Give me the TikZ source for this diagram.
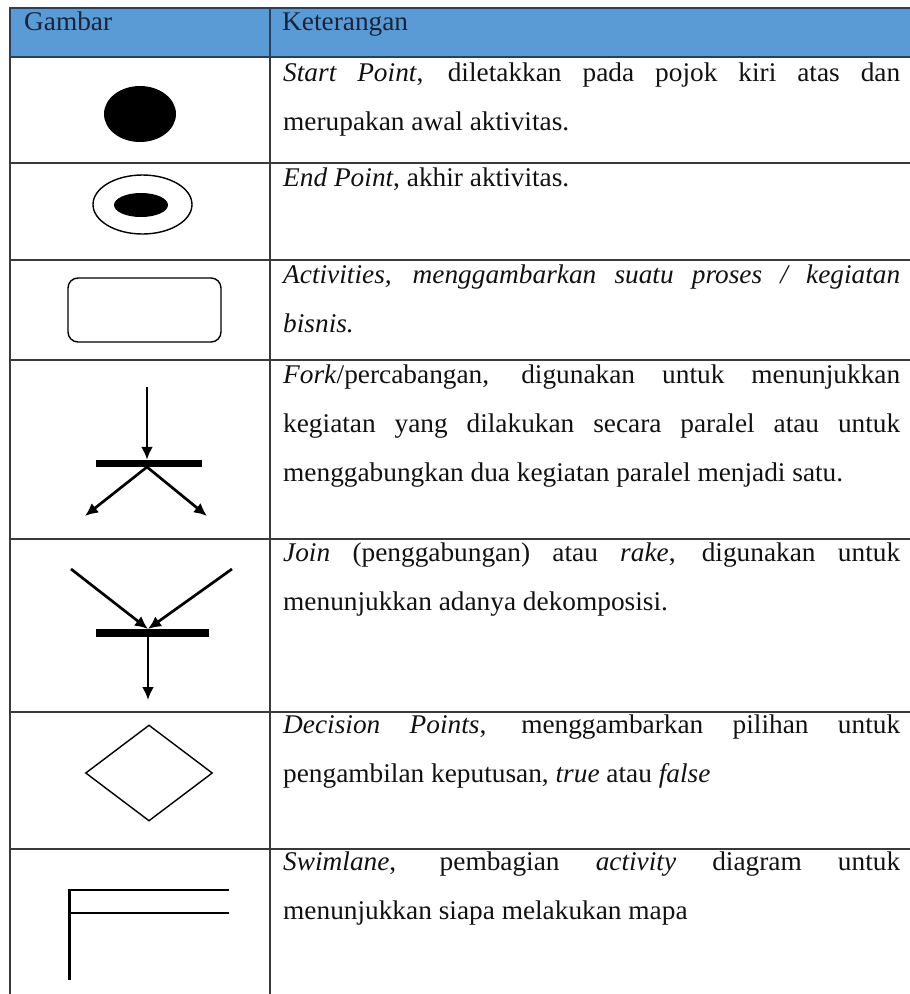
\documentclass[tikz,border=0pt]{standalone}
\usepackage{fontspec}
\setmainfont[FakeStretch=1.012]{Liberation Serif}
\usetikzlibrary{arrows.meta,shapes.geometric}

\definecolor{headfill}{HTML}{5B9BD5}
\definecolor{headline}{HTML}{2B3F5C}
\definecolor{headtext}{HTML}{16243D}
\definecolor{gridline}{HTML}{3A3A3A}
\definecolor{bodytext}{HTML}{111111}

% one justified line of the description column
\newcommand\fullline[1]{\makebox[617pt][s]{#1}}

\tikzset{
  rule/.style={draw=gridline, line width=1.8pt},
  headrule/.style={draw=headline, line width=2.2pt},
  desc/.style={anchor=base west, inner sep=0pt, text=bodytext,
               font=\fontsize{27}{32}\selectfont},
  headlabel/.style={anchor=base west, inner sep=0pt, text=headtext,
               font=\fontsize{27}{32}\selectfont},
  flow/.style={draw=black, line width=2.7pt,
               -{Latex[length=13pt,width=12pt]}},
  syncbar/.style={fill=black, draw=none, rectangle, inner sep=0pt},
}

\begin{document}
\begin{tikzpicture}[x=1pt,y=-1pt]
\useasboundingbox (0,0) rectangle (910,994);

% header band
\fill[headfill] (10,8) rectangle (912,57);

% row separators
\foreach \yy in {163,260,360,539,712,849}
  \draw[rule] (10,\yy) -- (912,\yy);
% column rules
\draw[rule] (10,57) -- (10,996);
\draw[rule] (270,57) -- (270,996);
% header frame
\draw[headrule] (10,57) -- (10,8) -- (912,8);
\draw[headrule] (10,57) -- (912,57);
\draw[headrule] (270,8) -- (270,57);

\node[headlabel] (hgambar) at (24,30) {Gambar};
\node[headlabel] (hket) at (282,30) {Keterangan};

% start point
\node[ellipse, fill=black, inner sep=0pt, minimum width=72pt, minimum height=56pt] (startpt) at (140,114) {};

% end point
\node[ellipse, draw=black, line width=1.4pt, inner sep=0pt, minimum width=99pt, minimum height=59pt] (endouter) at (142.5,204.5) {};
\node[ellipse, fill=black, inner sep=0pt, minimum width=54pt, minimum height=24pt] (endinner) at (141,205) {};

% activity
\node[rectangle, rounded corners=10pt, draw=black, line width=1.4pt, minimum width=153pt, minimum height=64pt] (activity) at (144.5,310) {};

% fork
\node[syncbar, minimum width=106pt, minimum height=7pt] (forkbar) at (149,463.5) {};
\coordinate (forkin) at (147,387);
\coordinate (forkleft) at (85,516);
\coordinate (forkright) at (207,516);
\coordinate (forkhub) at (147,467);
\draw[flow] (forkin) -- ([xshift=-2pt]forkbar.north);
\draw[flow] (forkhub) -- (forkleft);
\draw[flow] (forkhub) -- (forkright);

% join
\node[syncbar, minimum width=113pt, minimum height=8pt] (joinbar) at (152.5,633) {};
\coordinate (joinleft) at (71,569);
\coordinate (joinright) at (232,569);
\coordinate (joinhub) at (148,629);
\coordinate (joinfoot) at (148,637);
\coordinate (joinout) at (148,700);
\draw[flow] (joinleft) -- (joinhub);
\draw[flow] (joinright) -- (joinhub);
\draw[flow] (joinfoot) -- (joinout);

% decision
\node[diamond, draw=black, line width=1.4pt, inner sep=0pt, minimum width=127pt, minimum height=96pt] (decision) at (149,773) {};

% swimlane
\draw[black, line width=2.5pt] (229,890) -- (69,890);
\draw[black, line width=2.5pt] (69,913) -- (229,913);
\draw[black, line width=3pt] (69,889) -- (69,980);

% descriptions
\node[desc] (d1a) at (283,81) {\fullline{\textit{Start Point}, diletakkan pada pojok kiri atas dan}};
\node[desc] (d1b) at (283,130) {merupakan awal aktivitas.};

\node[desc] (d2a) at (283,186) {\textit{End Point}, akhir aktivitas.};

\node[desc] (d3a) at (283,283) {\fullline{\textit{Activities, menggambarkan suatu proses / kegiatan}}};
\node[desc] (d3b) at (283,332) {\textit{bisnis.}};

\node[desc] (d4a) at (283,383) {\fullline{\textit{Fork}/percabangan, digunakan untuk menunjukkan}};
\node[desc] (d4b) at (283,432) {\fullline{kegiatan yang dilakukan secara paralel atau untuk}};
\node[desc] (d4c) at (283,481) {menggabungkan dua kegiatan paralel menjadi satu.};

\node[desc] (d5a) at (283,561) {\fullline{\textit{Join} (penggabungan) atau \textit{rake}, digunakan untuk}};
\node[desc] (d5b) at (283,610) {menunjukkan adanya dekomposisi.};

\node[desc] (d6a) at (283,733) {\fullline{\textit{Decision Points}, menggambarkan pilihan untuk}};
\node[desc] (d6b) at (283,782) {pengambilan keputusan, \textit{true} atau \textit{false}};

\node[desc] (d7a) at (283,870) {\fullline{\textit{Swimlane}, pembagian \textit{activity} diagram untuk}};
\node[desc] (d7b) at (283,919) {menunjukkan siapa melakukan mapa};
\end{tikzpicture}
\end{document}
